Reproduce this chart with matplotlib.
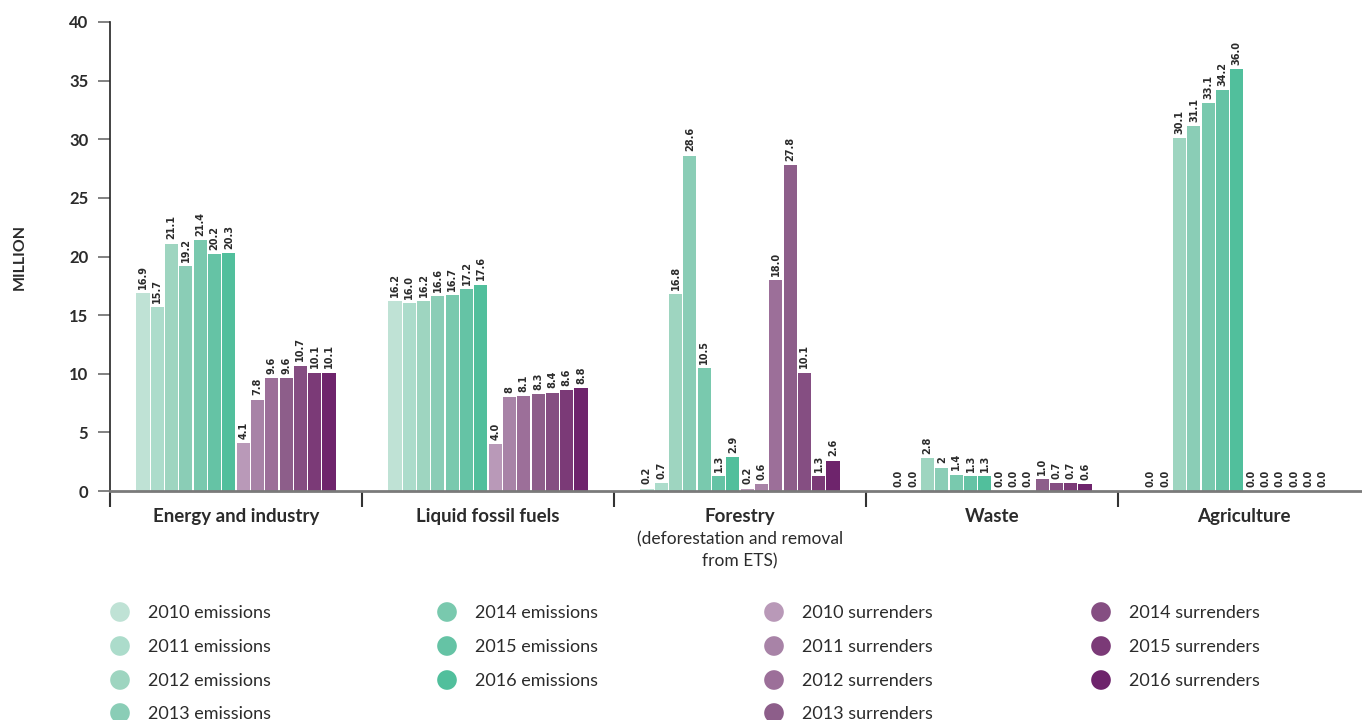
#!/usr/bin/env python3
"""
Emissions vs. unit surrenders by sector, 2010-2016 (grouped bars, one group per sector).
"""

import numpy as np
import matplotlib.pyplot as plt
from matplotlib.ticker import FixedLocator, NullFormatter

plt.rcParams["font.family"] = ["Lato", "DejaVu Sans"]

categories = ["Energy and industry", "Liquid fossil fuels", "Forestry", "Waste", "Agriculture"]
subtitles = ["", "", "(deforestation and removal\nfrom ETS)", "", ""]
years = [2010, 2011, 2012, 2013, 2014, 2015, 2016]

# emissions[sector][year]
emissions = [
    [16.9, 15.7, 21.1, 19.2, 21.4, 20.2, 20.3],
    [16.2, 16.0, 16.2, 16.6, 16.7, 17.2, 17.6],
    [0.2, 0.7, 16.8, 28.6, 10.5, 1.3, 2.9],
    [0.0, 0.0, 2.8, 2.0, 1.4, 1.3, 1.3],
    [0.0, 0.0, 30.1, 31.1, 33.1, 34.2, 36.0],
]
surrenders = [
    [4.1, 7.8, 9.6, 9.6, 10.7, 10.1, 10.1],
    [4.0, 8.0, 8.1, 8.3, 8.4, 8.6, 8.8],
    [0.2, 0.6, 18.0, 27.8, 10.1, 1.3, 2.6],
    [0.0, 0.0, 0.0, 1.0, 0.7, 0.7, 0.6],
    [0.0, 0.0, 0.0, 0.0, 0.0, 0.0, np.nan],
]
# some labels in the source are printed without a decimal
emis_labels = [
    ["16.9", "15.7", "21.1", "19.2", "21.4", "20.2", "20.3"],
    ["16.2", "16.0", "16.2", "16.6", "16.7", "17.2", "17.6"],
    ["0.2", "0.7", "16.8", "28.6", "10.5", "1.3", "2.9"],
    ["0.0", "0.0", "2.8", "2", "1.4", "1.3", "1.3"],
    ["0.0", "0.0", "30.1", "31.1", "33.1", "34.2", "36.0"],
]
surr_labels = [
    ["4.1", "7.8", "9.6", "9.6", "10.7", "10.1", "10.1"],
    ["4.0", "8", "8.1", "8.3", "8.4", "8.6", "8.8"],
    ["0.2", "0.6", "18.0", "27.8", "10.1", "1.3", "2.6"],
    ["0.0", "0.0", "0.0", "1.0", "0.7", "0.7", "0.6"],
    ["0.0", "0.0", "0.0", "0.0", "0.0", "0.0", ""],
]

emis_colors = ["#bfe2d5", "#acdccb", "#9ed5c0", "#8acdb6", "#79c9ae", "#65c3a5", "#51bf9c"]
surr_colors = ["#b999b8", "#a883a7", "#9c6f99", "#8d5e8a", "#854e82", "#7b3a77", "#6e246c"]

TEXT = "#2b2b2b"


def main():
    fig = plt.figure(figsize=(13.62, 7.2), dpi=100)
    ax = fig.add_axes([110 / 1362, 229 / 720, 1260 / 1362, 469 / 720])

    pitch = 0.0568
    width = 0.052
    n = len(categories)

    series = [(emissions, emis_labels, emis_colors, 0), (surrenders, surr_labels, surr_colors, 7)]
    for data, labels, colors, offset in series:
        for k in range(len(years)):
            xs = [i + 0.5 + (offset + k - 6.5) * pitch for i in range(n)]
            vals = [data[i][k] for i in range(n)]
            ax.bar(xs, vals, width=width, color=colors[k], zorder=2)
            for x, v, lab in zip(xs, vals, [labels[i][k] for i in range(n)]):
                if np.isnan(v) or not lab:
                    continue
                ax.annotate(lab, (x, v), xytext=(0, 3), textcoords="offset points",
                            rotation=90, ha="center", va="bottom", fontsize=7,
                            fontweight="bold", color=TEXT, family="DejaVu Sans")

    ax.set_xlim(0, n)
    ax.set_ylim(0, 40)

    # y axis
    ax.set_yticks(range(0, 41, 5))
    ax.tick_params(axis="y", length=8.6, width=1.3, color="#777777", pad=7,
                   labelsize=12, labelcolor=TEXT)
    for t in ax.get_yticklabels():
        t.set_fontweight("bold")
    ax.set_ylabel("MILLION", fontsize=11.5, fontweight="bold", color=TEXT)
    ax.yaxis.set_label_coords(-83 / 1260, 0.5)

    # x axis: boundary ticks, labels at group centres
    ax.xaxis.set_major_locator(FixedLocator(range(n + 1)))
    ax.xaxis.set_major_formatter(NullFormatter())
    ax.xaxis.set_minor_locator(FixedLocator([i + 0.5 for i in range(n)]))
    ax.set_xticklabels(categories, minor=True)
    ax.tick_params(axis="x", which="major", length=11.5, width=1.5, color="#333333")
    ax.tick_params(axis="x", which="minor", length=0, pad=12, labelsize=13.5, labelcolor=TEXT)
    for t in ax.get_xticklabels(minor=True):
        t.set_fontweight("bold")
    for i, sub in enumerate(subtitles):
        if sub:
            ax.annotate(sub, (i + 0.5, 0), xytext=(0, -29), textcoords="offset points",
                        ha="center", va="top", fontsize=12.5, color=TEXT, linespacing=1.45,
                        annotation_clip=False)

    for side in ["top", "right"]:
        ax.spines[side].set_visible(False)
    ax.spines["left"].set_color("#222222")
    ax.spines["left"].set_linewidth(1.2)
    ax.spines["bottom"].set_color("#7a7a7a")
    ax.spines["bottom"].set_linewidth(2)

    # legend, four columns drawn by hand
    lax = fig.add_axes([0, 0, 1, 1])
    lax.set_xlim(0, 1362)
    lax.set_ylim(720, 0)
    lax.axis("off")
    col_x = [120, 447, 774, 1101]
    row_y = [612, 646, 680, 713]
    for s, (kind, colors) in enumerate([("emissions", emis_colors), ("surrenders", surr_colors)]):
        for k, yr in enumerate(years):
            c = s * 2 + k // 4
            r = k % 4
            lax.scatter(col_x[c], row_y[r], s=200, color=colors[k], edgecolor="none")
            lax.text(col_x[c] + 28, row_y[r] + 1, f"{yr} {kind}", va="center", ha="left",
                     fontsize=13, color=TEXT)

    fig.savefig("out.png", dpi=100)


if __name__ == "__main__":
    main()
